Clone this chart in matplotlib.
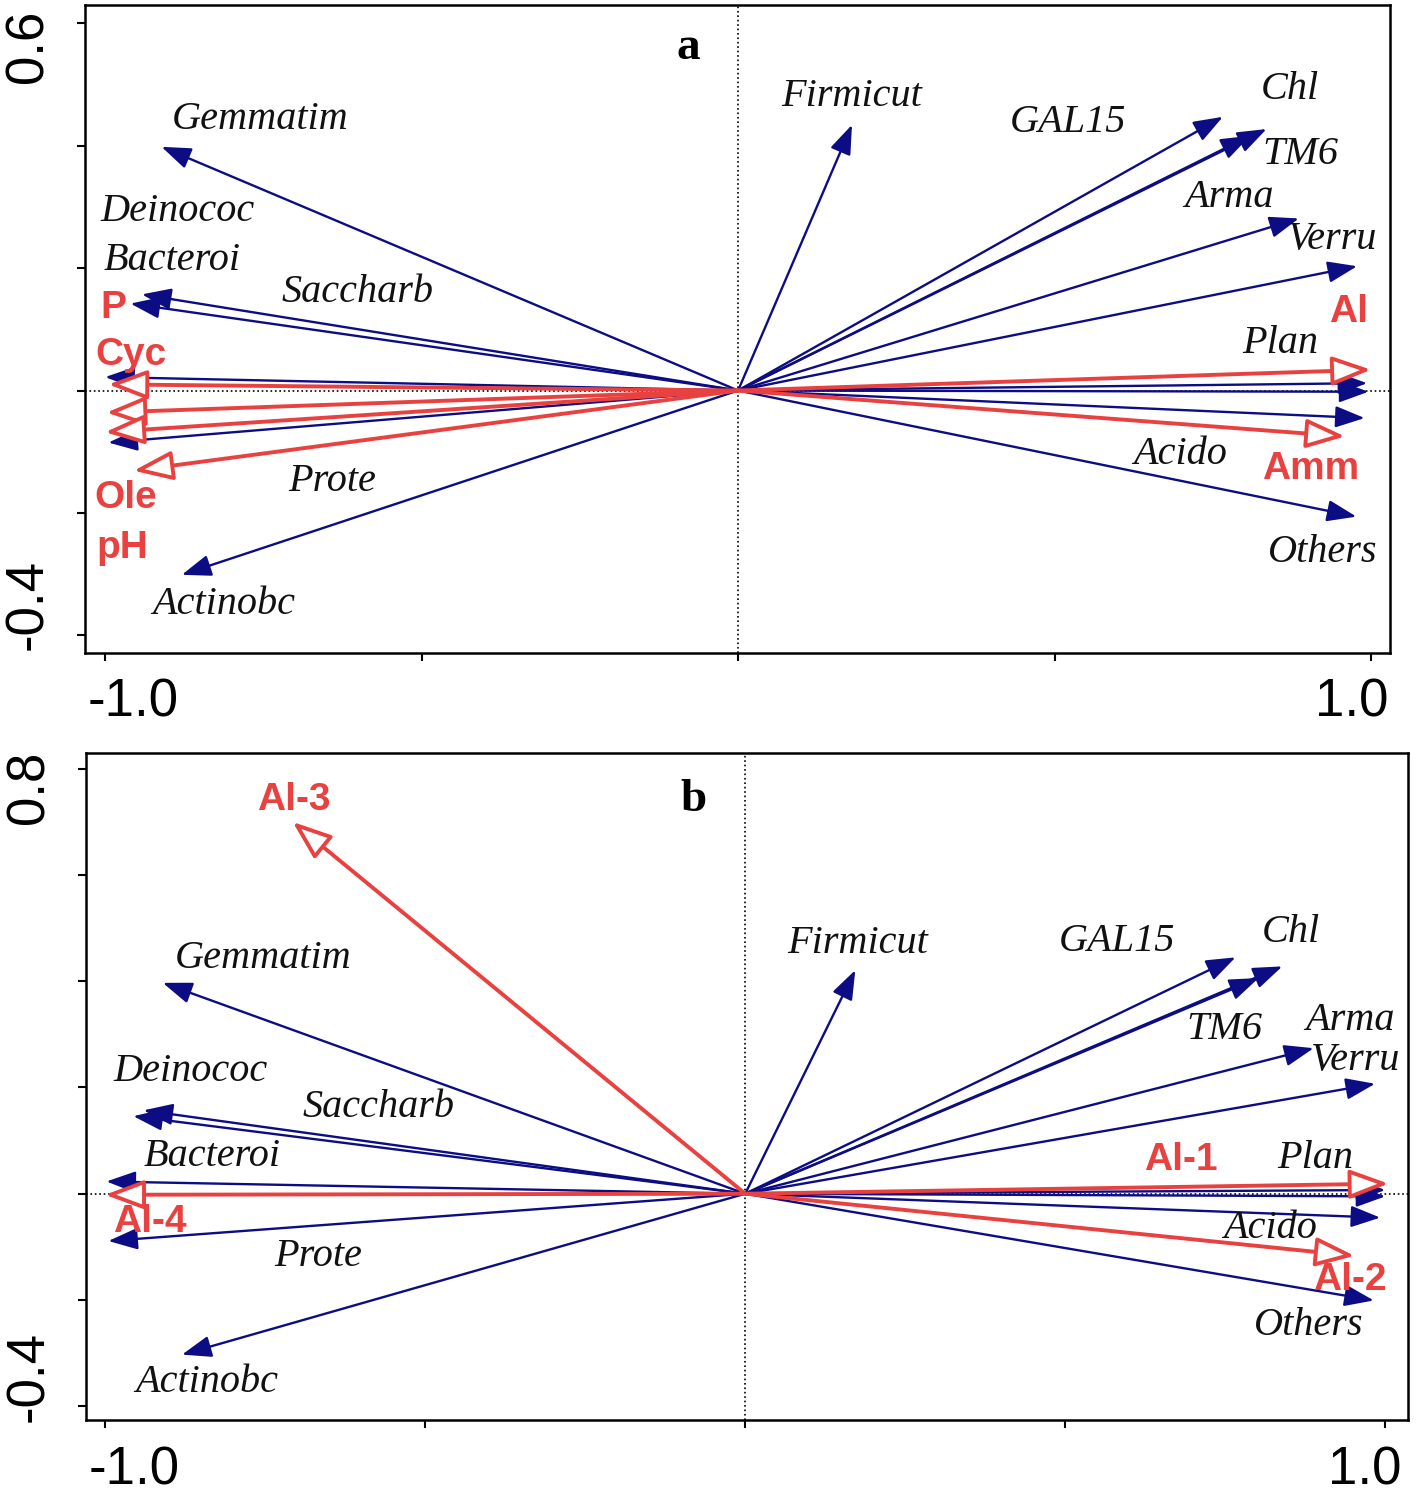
import matplotlib.pyplot as plt
import matplotlib.transforms as mtransforms
import numpy as np

# --- panel a: species scores (arrow tips) ---
spec_ax = [-0.911, -0.942, -0.960, -1.000, -0.995, -0.879,
           0.180, 0.766, 0.835, 0.809, 0.886, 0.978, 0.994, 0.996, 0.990, 0.977]
spec_ay = [0.398, 0.157, 0.142, 0.022, -0.085, -0.301,
           0.434, 0.447, 0.427, 0.416, 0.281, 0.203, 0.012, -0.002, -0.045, -0.206]
# environmental vectors a
env_ax = [-0.995, -0.998, -1.000, -0.955, 1.000, 0.959]
env_ay = [0.010, -0.036, -0.068, -0.131, 0.034, -0.075]

# labels a (text, x, y)
spec_lab_a = ['Gemmatim', 'Deinococ', 'Bacteroi', 'Saccharb', 'Prote', 'Actinobc',
              'Firmicut', 'GAL15', 'Chl', 'TM6', 'Arma', 'Verru', 'Plan', 'Acido', 'Others']
spec_lx_a = [-0.755, -0.885, -0.894, -0.601, -0.641, -0.812,
             0.180, 0.522, 0.872, 0.888, 0.775, 0.939, 0.857, 0.698, 0.923]
spec_ly_a = [0.442, 0.292, 0.213, 0.160, -0.148, -0.349,
             0.480, 0.437, 0.491, 0.385, 0.315, 0.246, 0.076, -0.105, -0.264]
env_lab_a = ['P', 'Cyc', 'Ole', 'pH', 'Al', 'Amm']
env_lx_a = [-0.987, -0.960, -0.967, -0.973, 0.964, 0.904]
env_ly_a = [0.134, 0.058, -0.176, -0.257, 0.128, -0.128]

# --- panel b ---
spec_bx = [-0.910, -0.940, -0.956, -0.998, -0.995, -0.880,
           0.172, 0.766, 0.839, 0.802, 0.888, 0.984, 1.000, 1.000, 0.992, 0.982]
spec_by = [0.397, 0.157, 0.146, 0.023, -0.089, -0.303,
           0.421, 0.445, 0.428, 0.406, 0.274, 0.207, 0.007, -0.005, -0.045, -0.201]
env_bx = [1.005, 0.952, -0.707, -1.000]
env_by = [0.019, -0.117, 0.700, -0.002]

spec_lab_b = ['Gemmatim', 'Deinococ', 'Saccharb', 'Bacteroi', 'Prote', 'Actinobc',
              'Firmicut', 'GAL15', 'Chl', 'TM6', 'Arma', 'Verru', 'Plan', 'Acido', 'Others']
spec_lx_b = [-0.753, -0.867, -0.573, -0.833, -0.667, -0.842,
             0.175, 0.581, 0.852, 0.748, 0.945, 0.953, 0.891, 0.820, 0.880]
spec_ly_b = [0.443, 0.231, 0.163, 0.071, -0.118, -0.355,
             0.472, 0.475, 0.491, 0.310, 0.327, 0.251, 0.067, -0.065, -0.248]
env_lab_b = ['Al-1', 'Al-2', 'Al-3', 'Al-4']
env_lx_b = [0.680, 0.945, -0.706, -0.930]
env_ly_b = [0.063, -0.163, 0.741, -0.054]

navy = '#0C0C84'
red = '#E8413F'

fig = plt.figure(figsize=(14.16, 14.94), dpi=100)


def shift(lab, dx, dy):
    lab.set_transform(lab.get_transform() +
                      mtransforms.ScaledTranslation(dx / 72, dy / 72, fig.dpi_scale_trans))


def panel(ax, letter, lpos, sx, sy, ex, ey, slab, slx, sly, elab, elx, ely,
          xlim, ylim, yticks, offs):
    ax.set_xlim(*xlim)
    ax.set_ylim(*ylim)
    ax.axhline(0, color='black', ls=':', lw=1.2, zorder=0)
    ax.axvline(0, color='black', ls=':', lw=1.2, zorder=0)
    for x, y in zip(sx, sy):
        ax.annotate('', xy=(x, y), xytext=(0, 0),
                    arrowprops=dict(arrowstyle='-|>,head_length=0.6,head_width=0.22',
                                    color=navy, lw=1.7, mutation_scale=30,
                                    shrinkA=0, shrinkB=0))
    for x, y in zip(ex, ey):
        ax.annotate('', xy=(x, y), xytext=(0, 0),
                    arrowprops=dict(arrowstyle='-|>,head_length=0.8,head_width=0.3',
                                    facecolor='white', edgecolor=red, lw=2.8,
                                    mutation_scale=30, shrinkA=0, shrinkB=0))
    for t, x, y in zip(slab, slx, sly):
        ax.text(x, y, t, family='Liberation Serif', style='italic', fontsize=29,
                ha='center', va='center', color='#111111')
    for t, x, y in zip(elab, elx, ely):
        ax.text(x, y, t, family='Liberation Sans', weight='bold', fontsize=28,
                ha='center', va='center', color=red)
    ax.text(lpos[0], lpos[1], letter, family='Liberation Serif',
            weight='bold', fontsize=34, ha='center', va='center')

    ax.set_xticks([-1.0, -0.5, 0.0, 0.5, 1.0])
    ax.set_xticklabels(['-1.0', '', '', '', '1.0'])
    ax.set_yticks(yticks)
    ylabs = [''] * len(yticks)
    ylabs[0] = '%.1f' % yticks[0]
    ylabs[-1] = '%.1f' % yticks[-1]
    ax.set_yticklabels(ylabs, rotation=90, va='center')
    ax.tick_params(axis='x', length=6, width=1.5, pad=12, labelsize=38)
    ax.tick_params(axis='y', length=6, width=1.5, pad=17, labelsize=38)
    for lab in ax.get_xticklabels() + ax.get_yticklabels():
        lab.set_family('Liberation Sans')
    for s in ax.spines.values():
        s.set_linewidth(1.8)
    xl = ax.get_xticklabels()
    yl = ax.get_yticklabels()
    shift(xl[0], offs[0], 0)
    shift(xl[-1], offs[1], 0)
    shift(yl[-1], 0, offs[2])
    shift(yl[0], 0, offs[3])


ax1 = fig.add_axes([0.060, 0.5632, 0.9216, 0.4332])
panel(ax1, 'a', (-0.079, 0.560), spec_ax, spec_ay, env_ax, env_ay,
      spec_lab_a, spec_lx_a, spec_ly_a, env_lab_a, env_lx_a, env_ly_a,
      (-1.032, 1.030), (-0.428, 0.629), np.round(np.arange(-0.4, 0.61, 0.2), 1),
      (20, -14, -17, 22))

ax2 = fig.add_axes([0.0607, 0.0492, 0.9339, 0.4465])
panel(ax2, 'b', (-0.081, 0.741), spec_bx, spec_by, env_bx, env_by,
      spec_lab_b, spec_lx_b, spec_ly_b, env_lab_b, env_lx_b, env_ly_b,
      (-1.030, 1.036), (-0.427, 0.829), np.round(np.arange(-0.4, 0.81, 0.2), 1),
      (21, -15, -13, 21))

fig.savefig('out.png', dpi=100)
